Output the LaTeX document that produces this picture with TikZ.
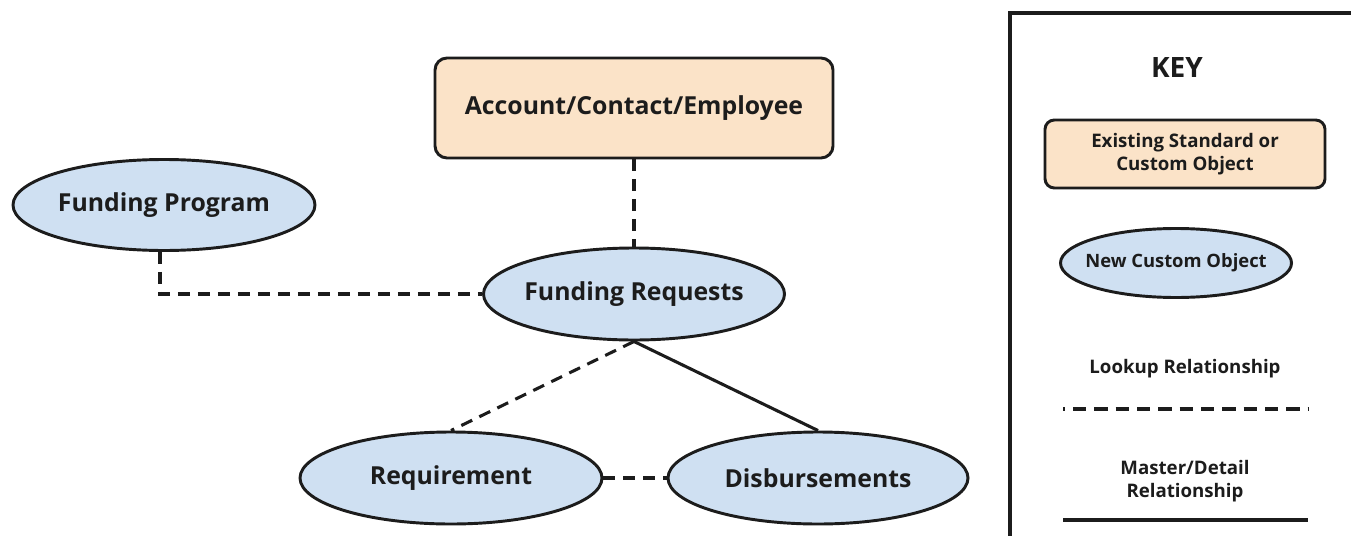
\documentclass[tikz,border=0pt]{standalone}
\usepackage{fontspec}
\setmainfont{Open Sans}
\usetikzlibrary{shapes.geometric}
\definecolor{peach}{HTML}{FBE3C8}
\definecolor{paleblue}{HTML}{CFE0F2}
\definecolor{ink}{HTML}{1C1C1C}
\begin{document}
\begin{tikzpicture}[x=0.75pt,y=-0.75pt,
  every node/.style={text=ink, font=\bfseries},
  stdobj/.style={draw=ink, fill=peach, line width=2.2pt, rounded corners=9pt, inner sep=0pt, align=center},
  newobj/.style={ellipse, draw=ink, fill=paleblue, line width=2.2pt, inner ysep=0pt, inner xsep=-14pt},
  lookup/.style={draw=ink, line width=2.3pt, dash pattern=on 9pt off 6pt},
  masterdetail/.style={draw=ink, line width=2.3pt},
  mainlabel/.style={font=\bfseries\fontsize{18.6}{22}\selectfont},
  keylabel/.style={font=\bfseries\fontsize{14}{17}\selectfont, align=center}
]
\useasboundingbox (0,0) rectangle (1351,535);
\fill[white] (0,0) rectangle (1351,535);

% main objects
\node[stdobj, minimum width=398*0.75pt, minimum height=100*0.75pt, mainlabel] (acc) at (634,108) {Account/Contact/Employee};
\node[newobj, minimum width=302*0.75pt, minimum height=91*0.75pt, mainlabel] (fp) at (164,205) {Funding Program};
\node[newobj, minimum width=301*0.75pt, minimum height=92*0.75pt, mainlabel] (fr) at (634,294) {Funding Requests};
\node[newobj, minimum width=302*0.75pt, minimum height=92*0.75pt, mainlabel] (req) at (451,478) {Requirement};
\node[newobj, minimum width=300*0.75pt, minimum height=92*0.75pt, mainlabel] (dis) at (818,478) {Disbursements};

% relationships
\draw[lookup] (acc.south) -- (fr.north);
\draw[lookup] ([xshift=-4*0.75pt]fp.south) |- (fr.west);
\draw[lookup] (fr.south) -- (req.north);
\draw[masterdetail] (fr.south) -- (dis.north);
\draw[lookup] (req.east) -- (dis.west);

% key panel
\coordinate (kbl) at (1010,540);
\coordinate (ktl) at (1010,13);
\coordinate (ktr) at (1356,13);
\draw[ink, line width=2.4pt] (kbl) -- (ktl) -- (ktr);
\node[font=\bfseries\fontsize{21}{24}\selectfont] (keytitle) at (1177,68) {KEY};
\node[stdobj, minimum width=280*0.75pt, minimum height=68*0.75pt, keylabel, rounded corners=7pt] (kstd) at (1185,154) {Existing Standard or\\Custom Object};
\node[newobj, minimum width=231*0.75pt, minimum height=69*0.75pt, font=\bfseries\fontsize{13.8}{16}\selectfont] (knew) at (1176,263) {New Custom Object};
\node[keylabel] (klook) at (1185,369) {Lookup Relationship};
\coordinate (kla) at (1063,409);
\coordinate (klb) at (1308,409);
\draw[lookup, dash pattern=on 10pt off 6pt, dash phase=8.5pt] (kla) -- (klb);
\node[keylabel] (kmd) at (1185,481) {Master/Detail\\Relationship};
\coordinate (kma) at (1063,520);
\coordinate (kmb) at (1308,520);
\draw[masterdetail] (kma) -- (kmb);
\end{tikzpicture}
\end{document}
